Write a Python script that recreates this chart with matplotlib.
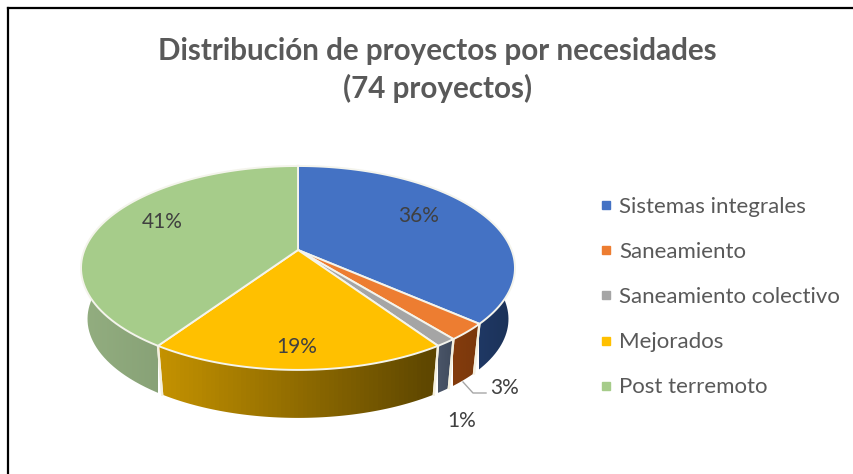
import numpy as np
import matplotlib.pyplot as plt
from matplotlib.colors import to_rgb
from matplotlib.lines import Line2D
from matplotlib.patches import Polygon

# project counts per need (74 in total)
categories = ['Sistemas integrales', 'Saneamiento', 'Saneamiento colectivo', 'Mejorados', 'Post terremoto']
counts = [27, 2, 1, 14, 30]
title = 'Distribución de proyectos por necesidades\n(74 proyectos)'

colors = ['#4472C4', '#ED7D31', '#A5A5A5', '#FFC000', '#A6CC8A']
wall_left = ['#1F3864', '#843C0C', '#4A5568', '#C49200', '#93AE80']
wall_right = ['#1B3157', '#7A380C', '#3F4A5C', '#5C4500', '#88A277']
label_pos = [(419, 216), (505, 388), (462, 421), (297, 347), (162, 222)]

# pie geometry in pixels, perspective projection of a tilted disc
cx, cy = 298, 250
a, b, k = 213.6, 98.8, 0.176
shrink, drop = 0.97, 51.6


def rim(theta):
    u, v = np.sin(theta), np.cos(theta)
    d = 1 + k * v
    return cx + a * u / d, cy - b * v / d


def lower(x, y):
    return cx + shrink * (x - cx), cy + shrink * (y - cy) + drop


fig = plt.figure(figsize=(8.54, 4.74), dpi=100)
ax = fig.add_axes([0, 0, 1, 1])
ax.set_xlim(0, 854)
ax.set_ylim(474, 0)
ax.axis('off')

ax.plot([8, 8], [474, 8], color='black', lw=1.6)
ax.plot([8, 854], [8, 8], color='black', lw=1.6)

edges = np.cumsum([0] + counts) / sum(counts) * 2 * np.pi

# side walls first, the top covers the hidden back part
for i in range(len(counts)):
    t = np.linspace(edges[i], edges[i + 1], 80)
    x, y = rim(t)
    xl, yl = lower(x, y)
    pts = np.r_[np.c_[x, y], np.c_[xl, yl][::-1]]
    poly = Polygon(pts, fc='none', ec='none')
    ax.add_patch(poly)
    c0 = np.array(to_rgb(wall_left[i]))
    c1 = np.array(to_rgb(wall_right[i]))
    grad = np.linspace(0, 1, 64)[None, :, None] * (c1 - c0) + c0
    # only the visible front stretch carries the gradient
    front = y > cy
    x0, x1 = (x[front].min(), x[front].max()) if front.any() else (x.min(), x.max())
    im = ax.imshow(grad, extent=(x0, x1, yl.max(), y.min()), aspect='auto', zorder=2)
    im.set_clip_path(poly)
    ax.plot([x[0], xl[0]], [y[0], yl[0]], color='#F4F0E0', lw=1.6, zorder=3)
    ax.plot([x[-1], xl[-1]], [y[-1], yl[-1]], color='#F4F0E0', lw=1.6, zorder=3)

ax.set_xlim(0, 854)
ax.set_ylim(474, 0)

# top of the pie
for i in range(len(counts)):
    t = np.linspace(edges[i], edges[i + 1], 80)
    x, y = rim(t)
    ax.add_patch(Polygon(np.r_[[(cx, cy)], np.c_[x, y]], fc=colors[i], ec='#F4F4EC', lw=1.4, zorder=4))

for n, pos in zip(counts, label_pos):
    ax.text(pos[0], pos[1], f'{round(100 * n / sum(counts))}%', ha='center', va='center',
            family='Lato', fontsize=15, color='#404040', zorder=6)

# leader line of the 3% label
ax.plot([463, 473, 486], [382, 393, 393], color='#A6A6A6', lw=1, zorder=5)

ax.text(437.5, 70, title, ha='center', va='center', family='Lato', fontweight='bold',
        fontsize=21.3, color='#595959', linespacing=1.34)

handles = [Line2D([], [], ls='', marker='s', ms=6, color=c) for c in colors]
ax.legend(handles, categories, loc='upper left', bbox_to_anchor=(595 / 854, 1 - 197 / 474), frameon=False,
          prop={'family': 'Lato', 'size': 16}, labelcolor='#595959', labelspacing=1.13,
          handlelength=1, handletextpad=0.08, borderpad=0, borderaxespad=0)

fig.savefig('out.png', dpi=100)
